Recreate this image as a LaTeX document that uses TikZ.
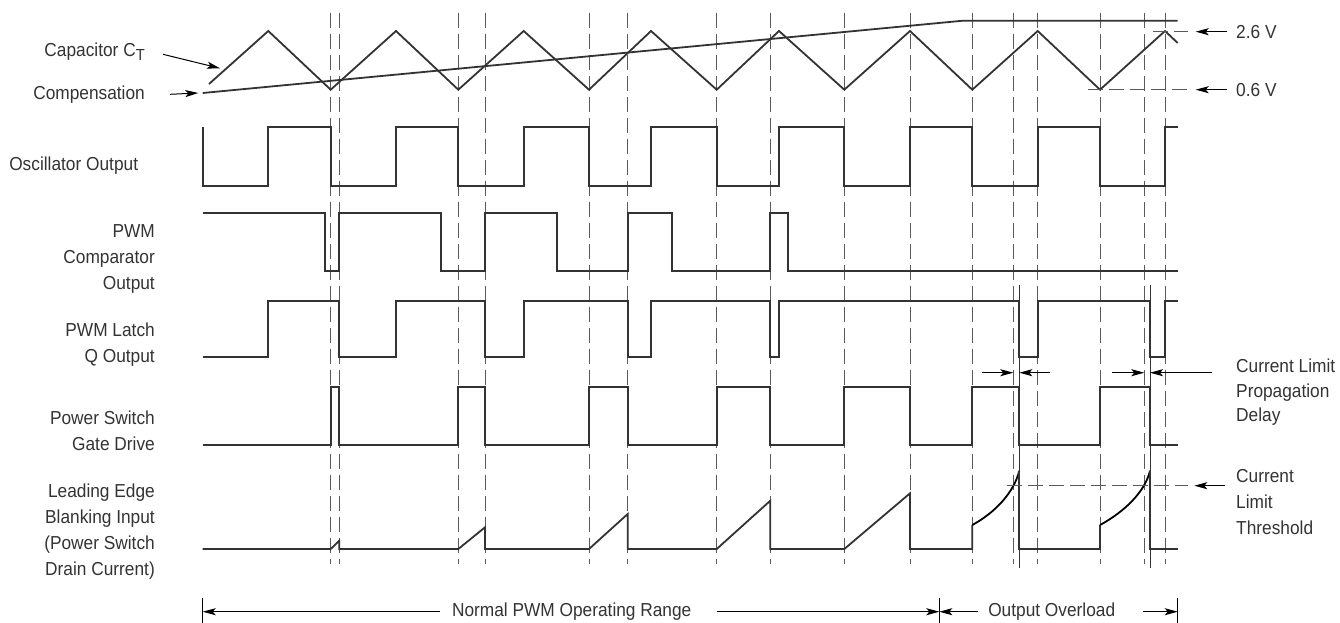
\documentclass[tikz,border=0pt]{standalone}
\usepackage{fontspec}
\setmainfont{Liberation Sans}[FakeStretch=0.92]
\usetikzlibrary{arrows.meta,positioning}
\definecolor{ink}{HTML}{333333}
\definecolor{guideink}{HTML}{5A5A5A}
\begin{document}
\begin{tikzpicture}[
            x=1pt, y=-1pt,
            wave/.style={ink, line width=1.8pt, line join=miter},
            guide/.style={guideink, line width=0.8pt, dash pattern=on 15pt off 6pt},
            pointer/.style={black, line width=1pt, -{Stealth[length=13pt, width=7pt, inset=3pt]}},
            lbl/.style={font=\fontsize{18.8}{26}\selectfont, text=ink, align=right, anchor=east, inner sep=0pt},
            note/.style={font=\fontsize{18.8}{26}\selectfont, text=ink, align=left, anchor=west, inner sep=0pt}
        ]
            \useasboundingbox (0,0) rectangle (1340,623);

            \foreach \xg in {330.7, 339.3, 458.3, 485, 589, 627.7, 716.7, 770.3, 844.3, 910, 972.3, 1013.3, 1037.7, 1100, 1144.3, 1165}
                \draw[guide] (\xg,12.7) -- (\xg,564);

            \node[lbl] (capct) at (145,51.7) {Capacitor C\raisebox{-4pt}{\fontsize{16}{16}\selectfont T}};
            \node[lbl] (compn) at (145,94.3) {Compensation};
            \node[lbl] (osc) at (138.3,165.7) {Oscillator Output};
            \node[lbl] (pwmc) at (155,259.3) {PWM\\Comparator\\Output};
            \node[lbl] (latch) at (155,344.7) {PWM Latch\\Q Output};
            \node[lbl] (gate) at (155,430.3) {Power Switch\\Gate Drive};
            \node[lbl] (leb) at (155,532) {Leading Edge\\Blanking Input\\(Power Switch\\Drain Current)};

            \coordinate (ctTip) at (220,68.3);
            \coordinate (compTip) at (198.3,93);
            \draw[pointer] ([shift={(18,2.6)}]capct.east) -- (ctTip);
            \draw[pointer] ([xshift=25pt]compn.east) -- (compTip);

            \draw[wave] (209,84) -- (268.3,31) -- (330.7,89.7) -- (396,31) -- (458.3,89.7)
                -- (523.7,31) -- (589,89.7) -- (651,31) -- (716.7,89.7) -- (779,31)
                -- (844.3,89.7) -- (910,31) -- (972.3,89.7) -- (1037.7,31) -- (1100,89.7)
                -- (1165,31) -- (1177.7,43);
            \draw[wave] (202.7,93) -- (963,20.7) -- (1177.7,20.7);

            \draw[wave] (202.7,127.3) |- (268.3,185.7) |- (330.7,127.3) |- (396,185.7) |- (458.3,127.3)
                |- (523.7,185.7) |- (589,127.3) |- (651,185.7) |- (716.7,127.3) |- (779,185.7)
                |- (844.3,127.3) |- (910,185.7) |- (972.3,127.3) |- (1037.7,185.7) |- (1100,127.3)
                |- (1165,185.7) |- (1177.7,127.3);

            \draw[wave] (202.7,212.7) -- (324.7,212.7) |- (339.3,271) |- (440.7,212.7) |- (485,271)
                |- (556.7,212.7) |- (627.7,271) |- (672.3,212.7) |- (770.3,271) |- (788.3,212.7)
                |- (1177.7,271);

            \draw[wave] (202.7,356.7) -- (268.3,356.7) |- (339.3,300.7) |- (396,356.7) |- (485,300.7)
                |- (523.7,356.7) |- (627.7,300.7) |- (651,356.7) |- (770.3,300.7) |- (779,356.7)
                |- (1019.3,300.7) |- (1037.7,356.7) |- (1150,300.7) |- (1165,356.7) |- (1177.7,300.7);

            \draw[wave] (202.7,445) -- (330.7,445) |- (339.3,386.7) |- (458.3,445) |- (485,386.7)
                |- (589,445) |- (627.7,386.7) |- (716.7,445) |- (770.3,386.7) |- (844.3,445)
                |- (910,386.7) |- (972.3,445) |- (1019.3,386.7) |- (1100,445) |- (1150,386.7)
                |- (1177.7,445);

            \draw[wave] (202.7,549) -- (330.7,549) -- (339.3,540.7) -- (339.3,549) -- (458.3,549)
                -- (485,527.3) -- (485,549) -- (589,549) -- (627.7,514) -- (627.7,549)
                -- (716.7,549) -- (770.3,500.7) -- (770.3,549) -- (844.3,549) -- (910,493.3)
                -- (910,549) -- (972.3,549) -- (972.3,525);
            \draw[wave, black] (972.3,525) .. controls (996,512) and (1014,492) .. (1019.3,470.7);
            \draw[wave] (1019.3,470.7) -- (1019.3,549) -- (1100,549) -- (1100,525);
            \draw[wave, black] (1100,525) .. controls (1124,512) and (1145,492) .. (1150,470.7);
            \draw[wave] (1150,470.7) -- (1150,549) -- (1177.7,549);

            \coordinate (dlyA) at (1019.3,285);
            \coordinate (dlyB) at (1150,285);
            \draw[ink, line width=0.8pt] (dlyA) -- (1019.3,568);
            \draw[ink, line width=0.8pt] (dlyB) -- (1150,568);

            \draw[guide] (1153.3,31.7) -- (1188.3,31.7);
            \draw[guide] (1087.7,89.7) -- (1188.3,89.7);
            \draw[guide] (1006.7,485.7) -- (1188.3,485.7);

            \node[note] (hiV) at (1236,31.7) {2.6 V};
            \node[note] (loV) at (1236,89.7) {0.6 V};
            \node[note, font=\fontsize{18.8}{24.5}\selectfont] (delay) at (1236,392.2) {Current Limit\\Propagation\\Delay};
            \node[note] (thresh) at (1236,502) {Current\\Limit\\Threshold};

            \coordinate (hiTip) at (1195.7,31.7);
            \coordinate (loTip) at (1195.7,89.7);
            \coordinate (thTip) at (1194.3,485.7);
            \draw[pointer] ([xshift=-9pt]hiV.west) -- (hiTip);
            \draw[pointer] ([xshift=-9pt]loV.west) -- (loTip);
            \draw[pointer] (1225,485.7) -- (thTip);

            \draw[pointer] (981.7,372.7) -- (1013.3,372.7);
            \draw[pointer] (1050,372.7) -- (1019.3,372.7);
            \draw[pointer] (1112.3,372.7) -- (1144.3,372.7);
            \draw[pointer] (1211.7,372.7) -- (1150,372.7);

            \coordinate (rangeL) at (202.7,611.7);
            \coordinate (rangeM) at (939.3,611.7);
            \coordinate (rangeR) at (1177.7,611.7);
            \draw[black, line width=0.8pt] (202.7,598) -- (202.7,623);
            \draw[black, line width=0.8pt] (939.3,598) -- (939.3,623);
            \draw[black, line width=0.8pt] (1177.7,598) -- (1177.7,623);
            \node[note, anchor=center] (normal) at (571.7,611.7) {Normal PWM Operating Range};
            \node[note, anchor=center] (overload) at (1051.7,611.7) {Output Overload};
            \draw[pointer] (440,611.7) -- (rangeL);
            \draw[pointer] (716.7,611.7) -- (rangeM);
            \draw[pointer] (978.3,611.7) -- (rangeM);
            \draw[pointer] (1142.7,611.7) -- (rangeR);
        \end{tikzpicture}
\end{document}
